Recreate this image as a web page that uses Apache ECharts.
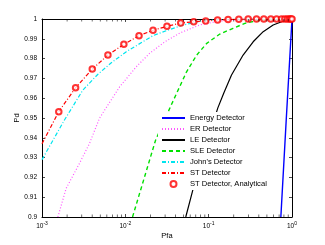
<!DOCTYPE html>
<html><head><meta charset="utf-8">
<script src="https://cdn.jsdelivr.net/npm/echarts@6/dist/echarts.min.js"></script>
<style>html,body{margin:0;padding:0;background:#fff}#c{width:325px;height:245px}</style>
</head><body><div id="c"></div>
<script>
// [Pfa, Pd] pairs
const energy = [[0.735, 0.9], [0.855, 0.95], [1, 1]];
const er = [[0.00155, 0.9], [0.00195, 0.9145], [0.00282, 0.9271], [0.00372, 0.9372], [0.00491, 0.950],
  [0.00853, 0.9657], [0.01354, 0.9759], [0.0196, 0.9827], [0.0296, 0.9884], [0.045, 0.9929],
  [0.078, 0.997], [0.136, 0.999], [0.31, 0.9999], [1, 1]];
const le = [[0.0531, 0.9], [0.0645, 0.9136], [0.1285, 0.955], [0.152, 0.9626], [0.188, 0.9717],
  [0.259, 0.9818], [0.342, 0.9885], [0.451, 0.9936], [0.594, 0.997], [0.75, 0.9986], [0.9, 1], [1, 1]];
const sle = [[0.0122, 0.9], [0.0231, 0.9389], [0.0348, 0.9557], [0.0541, 0.9732], [0.0719, 0.9818],
  [0.0948, 0.9877], [0.136, 0.9924], [0.196, 0.9953], [0.272, 0.9978], [0.375, 0.9991], [0.53, 0.9998], [1, 1]];
const johns = [[0.001, 0.929], [0.00186, 0.949], [0.00309, 0.9641], [0.00469, 0.9721], [0.00679, 0.9779],
  [0.01028, 0.9835], [0.0215, 0.9916], [0.0325, 0.9944], [0.05, 0.997], [0.08, 0.999], [0.15, 0.9998], [1, 1]];
const st = [[0.001, 0.937], [0.00159, 0.9532], [0.00253, 0.9653], [0.00401, 0.9747], [0.00618, 0.9818],
  [0.0096, 0.9872], [0.0146, 0.9916], [0.0215, 0.9943], [0.0316, 0.9963], [0.0462, 0.998], [0.0662, 0.9986],
  [0.0922, 0.999], [0.128, 0.9995], [0.171, 0.9997], [0.23, 0.9999], [0.3, 1], [1, 1]];
const stAnalytical = [[0.00159, 0.9532], [0.00253, 0.9653], [0.00401, 0.9747], [0.00618, 0.9818],
  [0.0096, 0.9872], [0.0146, 0.9916], [0.0215, 0.9943], [0.0316, 0.9963], [0.0462, 0.998], [0.0662, 0.9986],
  [0.0922, 0.999], [0.128, 0.9995], [0.171, 0.9997], [0.23, 0.9999], [0.298, 1], [0.375, 1], [0.459, 1],
  [0.557, 1], [0.653, 1], [0.75, 1], [0.82, 1], [0.88, 1], [0.93, 1], [0.97, 1], [1, 1]];
const seriesNames = ['Energy Detector', 'ER Detector', 'LE Detector', 'SLE Detector', "John's Detector", 'ST Detector', 'ST Detector, Analytical'];
const xTicks = [0.001, 0.01, 0.1, 1];
const xTickExponents = ['-3', '-2', '-1', '0'];
const xMinorTicks = [0.002,0.003,0.004,0.005,0.006,0.007,0.008,0.009,0.02,0.03,0.04,0.05,0.06,0.07,0.08,0.09,0.2,0.3,0.4,0.5,0.6,0.7,0.8,0.9];
const yMin = 0.9, yMax = 1, yStep = 0.01;

const FONT = 'Liberation Sans';
const chart = echarts.init(document.getElementById('c'), null, {renderer: 'canvas'});
function xLabel(v) {
  const i = xTicks.findIndex(t => Math.abs(Math.log10(t) - Math.log10(v)) < 1e-6);
  return i < 0 ? '' : '{b|10}{s|' + xTickExponents[i] + '}';
}
const tickStyle = {show: true, inside: true, length: 3, lineStyle: {color: '#000', width: 0.7}};
function line(name, data, color, type, width) {
  return {name, type: 'line', data, showSymbol: false, symbol: 'none', z: 3,
    lineStyle: {color, type, width}, itemStyle: {color}};
}
const legendData = seriesNames.map((n, i) => i < 6 ? {name: n, itemStyle: {opacity: 0}} : {name: n});
chart.setOption({
  animation: false,
  backgroundColor: '#fff',
  grid: {left: 42, right: 33, top: 19, bottom: 28, outerBoundsMode: 'none'},
  xAxis: [{
    type: 'log', logBase: 10, min: 0.001, max: 1, position: 'bottom',
    name: 'Pfa', nameLocation: 'middle', nameGap: 15, nameMoveOverlap: false,
    nameTextStyle: {fontFamily: FONT, fontSize: 7.5, color: '#000'},
    axisLine: {lineStyle: {color: '#000', width: 1}},
    axisTick: tickStyle, splitLine: {show: false}, minorTick: {show: false},
    axisLabel: {formatter: xLabel, margin: 4, rich: {
      b: {fontFamily: FONT, fontSize: 6.5, color: '#000'},
      s: {fontFamily: FONT, fontSize: 5, color: '#000', padding: [0, 0, 5, 0]}}}
  }, {
    type: 'log', logBase: 10, min: 0.001, max: 1, position: 'top',
    axisLine: {lineStyle: {color: '#000', width: 1}},
    axisTick: tickStyle, axisLabel: {show: false}, splitLine: {show: false}
  }],
  yAxis: [{
    type: 'value', min: yMin, max: yMax, interval: yStep, position: 'left',
    name: 'Pd', nameLocation: 'middle', nameGap: 21, nameRotate: 90, nameMoveOverlap: false,
    nameTextStyle: {fontFamily: FONT, fontSize: 7.5, color: '#000'},
    axisLine: {show: true, lineStyle: {color: '#000', width: 1}},
    axisTick: tickStyle, splitLine: {show: false},
    axisLabel: {margin: 5, fontFamily: FONT, fontSize: 6.5, color: '#000'}
  }, {
    type: 'value', min: yMin, max: yMax, interval: yStep, position: 'right',
    axisLine: {show: true, lineStyle: {color: '#000', width: 1}},
    axisTick: tickStyle, axisLabel: {show: false}, splitLine: {show: false}
  }],
  legend: {
    orient: 'vertical', left: 158, top: 112, data: legendData,
    backgroundColor: '#fff', padding: [2, 4, 2, 3],
    itemWidth: 23, itemHeight: 6, itemGap: 3,
    textStyle: {fontFamily: FONT, fontSize: 7.6, color: '#000'}
  },
  series: [
    line(seriesNames[0], energy, '#0000ff', 'solid', 1.4),
    line(seriesNames[1], er, '#ff55ff', [1, 2], 1.2),
    line(seriesNames[2], le, '#000000', 'solid', 1.2),
    line(seriesNames[3], sle, '#00e000', [4, 3], 1.4),
    line(seriesNames[4], johns, '#00e5ee', [4, 2, 1, 2], 1.2),
    line(seriesNames[5], st, '#ff0000', [4, 2, 1, 2], 1.2),
    {name: seriesNames[6], type: 'scatter', data: stAnalytical, symbol: 'emptyCircle', symbolSize: 5.5, z: 4,
      itemStyle: {color: '#ff0000', borderColor: '#ff0000', borderWidth: 1.3}},
    {type: 'scatter', silent: true, data: xMinorTicks.map(v => [v, yMin]), symbol: 'rect',
      symbolSize: [0.7, 2.5], symbolOffset: [0, -1.25], itemStyle: {color: '#000'}, z: 5},
    {type: 'scatter', silent: true, data: xMinorTicks.map(v => [v, yMax]), symbol: 'rect',
      symbolSize: [0.7, 2.5], symbolOffset: [0, 1.25], itemStyle: {color: '#000'}, z: 5}
  ]
});
</script></body></html>
